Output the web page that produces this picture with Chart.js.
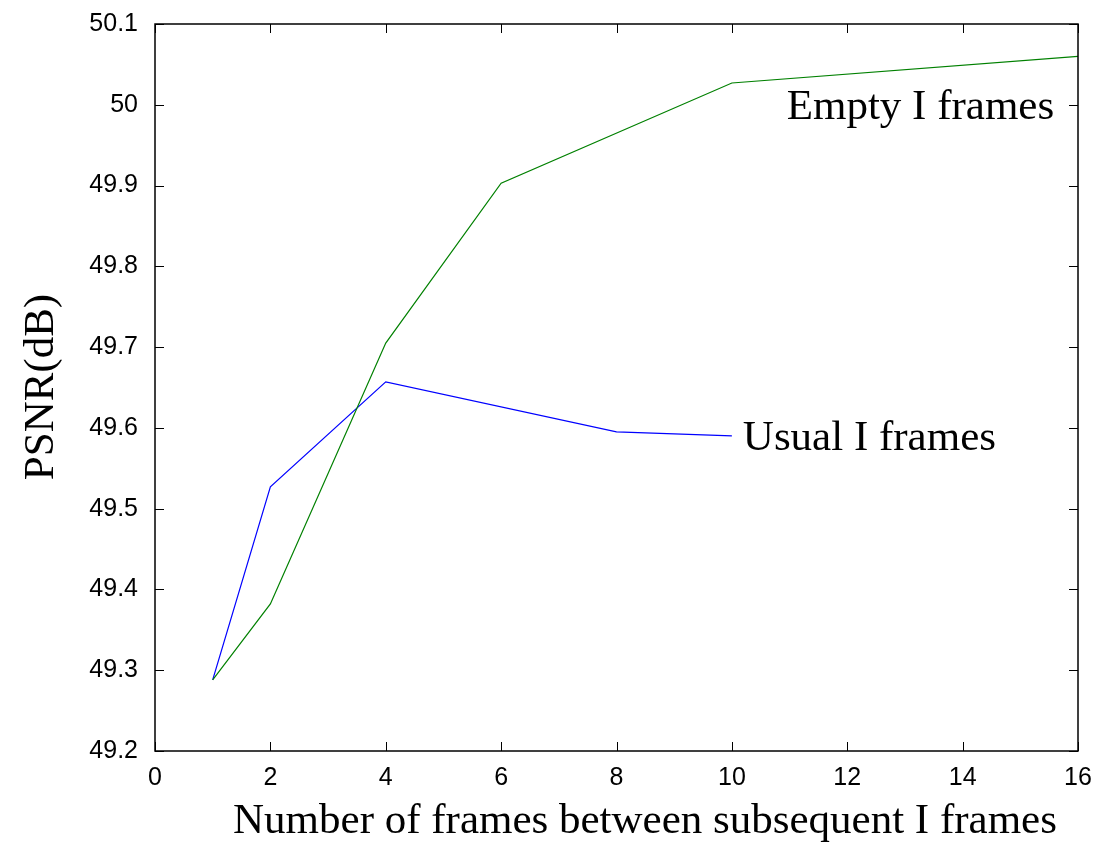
<!DOCTYPE html>
<html>
<head>
<meta charset="utf-8">
<script src="https://cdn.jsdelivr.net/npm/chart.js@4"></script>
<style>
  body { margin: 0; background: #fff; }
  #wrap { width: 1098px; height: 845px; }
</style>
</head>
<body>
<div id="wrap"><canvas id="c"></canvas></div>
<script>
const emptyX = [1, 2, 4, 6, 10, 16];
const emptyY = [49.288, 49.382, 49.705, 49.903, 50.027, 50.060];
const usualX = [1, 2, 4, 8, 10];
const usualY = [49.288, 49.527, 49.657, 49.595, 49.590];
const xTicks = [0, 2, 4, 6, 8, 10, 12, 14, 16];
const yTicks = [49.2, 49.3, 49.4, 49.5, 49.6, 49.7, 49.8, 49.9, 50.0, 50.1];

const toPoints = (xs, ys) => xs.map((x, i) => ({x: x, y: ys[i]}));

// box, inward ticks, axis titles and line labels
const matlabFrame = {
    id: 'matlabFrame',
    afterDraw(chart) {
        const {ctx, chartArea: a, scales: {x, y}} = chart;
        ctx.save();
        ctx.strokeStyle = '#000';
        ctx.lineWidth = 1.5;
        ctx.strokeRect(a.left, a.top, a.right - a.left, a.bottom - a.top);
        ctx.lineWidth = 1;
        const len = 9;
        xTicks.forEach(v => {
            const px = Math.round(x.getPixelForValue(v)) + 0.5;
            ctx.beginPath();
            ctx.moveTo(px, a.bottom); ctx.lineTo(px, a.bottom - len);
            ctx.moveTo(px, a.top); ctx.lineTo(px, a.top + len);
            ctx.stroke();
        });
        yTicks.forEach(v => {
            const py = Math.round(y.getPixelForValue(v)) + 0.5;
            ctx.beginPath();
            ctx.moveTo(a.left, py); ctx.lineTo(a.left + len, py);
            ctx.moveTo(a.right, py); ctx.lineTo(a.right - len, py);
            ctx.stroke();
        });

        ctx.fillStyle = '#000';
        ctx.font = '43px "Liberation Serif", "Times New Roman", serif';
        ctx.textBaseline = 'middle';
        ctx.textAlign = 'center';
        ctx.fillText('Number of frames between subsequent I frames', 645, 822);
        ctx.save();
        ctx.translate(42, 387);
        ctx.rotate(-Math.PI / 2);
        ctx.fillText('PSNR(dB)', 0, 0);
        ctx.restore();

        ctx.textAlign = 'left';
        ctx.fillText('Empty I frames', x.getPixelForValue(10.95), y.getPixelForValue(49.996));
        ctx.fillText('Usual I frames', x.getPixelForValue(10.19), y.getPixelForValue(49.587));
        ctx.restore();
    }
};

new Chart(document.getElementById('c'), {
    type: 'line',
    data: {
        datasets: [{
            label: 'Empty I frames',
            data: toPoints(emptyX, emptyY),
            borderColor: '#008000',
            borderWidth: 1.2,
            pointRadius: 0,
            tension: 0
        }, {
            label: 'Usual I frames',
            data: toPoints(usualX, usualY),
            borderColor: '#0000ff',
            borderWidth: 1.2,
            pointRadius: 0,
            tension: 0
        }]
    },
    options: {
        responsive: true,
        maintainAspectRatio: false,
        animation: false,
        layout: { padding: { top: 22, right: 20, left: 0, bottom: 0 } },
        scales: {
            x: {
                type: 'linear',
                min: 0,
                max: 16,
                grid: { display: false },
                border: { display: false },
                afterFit: s => { s.height = 94; },
                afterBuildTicks: s => { s.ticks = xTicks.map(v => ({value: v})); },
                ticks: {
                    color: '#000',
                    padding: 4,
                    maxRotation: 0,
                    font: { family: '"Liberation Sans", Arial, sans-serif', size: 25 }
                }
            },
            y: {
                min: 49.2,
                max: 50.1,
                grid: { display: false },
                border: { display: false },
                afterFit: s => { s.width = 155; },
                afterBuildTicks: s => { s.ticks = yTicks.map(v => ({value: v})); },
                ticks: {
                    color: '#000',
                    padding: 9,
                    font: { family: '"Liberation Sans", Arial, sans-serif', size: 25 },
                    callback: v => String(parseFloat(v.toFixed(1)))
                }
            }
        },
        plugins: {
            legend: { display: false },
            tooltip: { enabled: false }
        }
    },
    plugins: [matlabFrame]
});
</script>
</body>
</html>
